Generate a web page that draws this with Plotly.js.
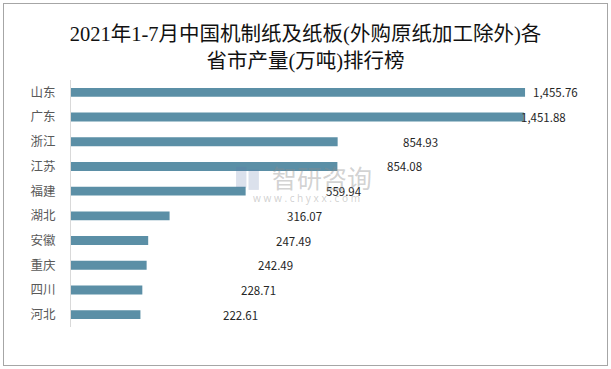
<!DOCTYPE html>
<html>
<head>
<meta charset="utf-8">
<script src="https://cdn.plot.ly/plotly-3.0.1.min.js"></script>
<style>
html,body{margin:0;padding:0;background:#fff;}
#wrap{position:relative;width:611px;height:369px;}
#chart{position:absolute;left:0;top:0;width:611px;height:369px;}
#frame{position:absolute;left:3px;top:3px;width:603px;height:361px;border:1px solid #a6a6a6;pointer-events:none;}
</style>
</head>
<body>
<div id="wrap"><div id="chart"></div><div id="frame"></div></div>
<script>
const provinces = ['山东','广东','浙江','江苏','福建','湖北','安徽','重庆','四川','河北'];
const output = [1455.76, 1451.88, 854.93, 854.08, 559.94, 316.07, 247.49, 242.49, 228.71, 222.61];
const titleText = '2021年1-7月中国机制纸及纸板(外购原纸加工除外)各<br>省市产量(万吨)排行榜';

// label shift (px) from bar end, as placed in the reference
const labelShift = [6, -5, 63, 48, 78, 115, 126, 109, 97, 81];

const fmt = v => v.toLocaleString('en-US', {minimumFractionDigits: 2, maximumFractionDigits: 2});

const annotations = provinces.map((p, i) => ({
  x: output[i], y: p, xref: 'x', yref: 'y',
  text: fmt(output[i]), showarrow: false,
  xanchor: 'left', yanchor: 'middle', xshift: labelShift[i],
  font: {family: 'Noto Sans CJK SC, Noto Sans, sans-serif', size: 11.5, color: '#262626'}
}));

annotations.push({
  xref: 'paper', yref: 'paper', x: 0.483, y: 0.607, xanchor: 'center', yanchor: 'middle',
  text: '智研咨询', showarrow: false,
  font: {family: 'Noto Sans CJK SC, sans-serif', size: 25, color: 'rgba(140,140,140,0.4)'}
});
annotations.push({
  xref: 'paper', yref: 'paper', x: 0.453, y: 0.524, xanchor: 'center', yanchor: 'middle',
  text: 'w w w . c h y x x . c o m', showarrow: false,
  font: {family: 'Noto Sans, sans-serif', size: 10, color: 'rgba(140,140,140,0.4)'}
});

const trace = {
  type: 'bar', orientation: 'h',
  x: output, y: provinces,
  marker: {color: '#5b8fa6', line: {width: 0}},
  hoverinfo: 'none'
};

const layout = {
  width: 611, height: 369,
  margin: {l: 71, r: 21, t: 80, b: 42, pad: 0},
  paper_bgcolor: '#fff', plot_bgcolor: '#fff',
  title: {
    text: titleText, x: 0.5, xanchor: 'center', y: 0.889, yanchor: 'middle',
    font: {family: 'Liberation Serif, Noto Sans CJK SC, serif', size: 20.5, color: '#111'}
  },
  bargap: 0.64,
  showlegend: false,
  xaxis: {range: [0, 1664], visible: false, fixedrange: true},
  yaxis: {
    type: 'category', categoryorder: 'array', categoryarray: provinces,
    range: [9.5, -0.5], showline: true, linecolor: '#d9d9d9', linewidth: 1,
    showgrid: false, zeroline: false, ticks: '', ticklabelstandoff: 12,
    tickfont: {family: 'Noto Sans CJK SC, sans-serif', size: 12.5, color: '#595959'},
    fixedrange: true
  },
  shapes: [
    {type: 'rect', xref: 'paper', yref: 'paper', x0: 0.318, x1: 0.338, y0: 0.565, y1: 0.648,
     fillcolor: 'rgba(90,120,170,0.22)', line: {width: 0}, layer: 'above'},
    {type: 'rect', xref: 'paper', yref: 'paper', x0: 0.342, x1: 0.362, y0: 0.555, y1: 0.638,
     fillcolor: 'rgba(90,120,170,0.22)', line: {width: 0}, layer: 'above'}
  ],
  annotations: annotations
};

Plotly.newPlot('chart', [trace], layout, {displayModeBar: false, staticPlot: true});
</script>
</body>
</html>
